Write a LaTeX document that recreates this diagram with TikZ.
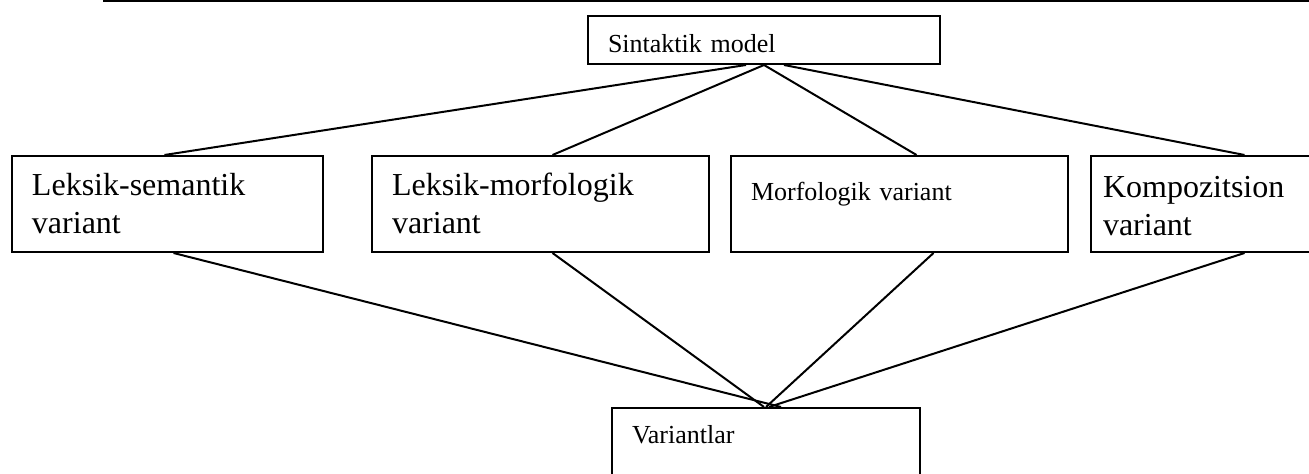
\documentclass[tikz,border=0pt]{standalone}
\usepackage{fontspec}
\setmainfont{Liberation Serif}
\usetikzlibrary{calc}

\begin{document}
\begin{tikzpicture}[x=0.5pt,y=-0.5pt,line width=1pt]
\tikzstyle{every node}+=[inner sep=0pt]
\tikzstyle{varbox}=[draw, anchor=north west, align=left, inner xsep=10pt, line width=1pt]
\tikzstyle{bigtext}=[font=\fontsize{16}{19}\selectfont]
\tikzstyle{smalltext}=[font=\fontsize{13}{16}\selectfont]
\useasboundingbox (0,0) rectangle (1309,474);
\clip (0,0) rectangle (1309,474);
\draw (103,1) -- (1309,1);
\node [varbox,smalltext,text width=156pt,text height=18.5pt,text depth=5.5pt] (sint) at (587,15) {Sintaktik model};
\node [varbox,bigtext,text width=135.5pt,text height=20pt,text depth=28pt] (lexsem) at (11,155) {Leksik-semantik\\variant};
\node [varbox,bigtext,text width=148.5pt,text height=20pt,text depth=28pt] (lexmorf) at (371,155) {Leksik-morfologik\\variant};
\node [varbox,smalltext,text width=148.5pt,text height=22.5pt,text depth=25.5pt] (morf) at (730,155) {Morfologik variant};
\node [varbox,bigtext,inner xsep=6pt,text width=156.5pt,text height=21pt,text depth=27pt] (komp) at (1090,155) {Kompozitsion\\variant};
\node [varbox,smalltext,text width=134pt,text height=18pt,text depth=40pt] (var) at (611,407) {Variantlar};
\draw ($(sint.south)+(-18,0)$) -- ($(lexsem.north)+(-3,0)$);
\draw (sint.south) -- ($(lexmorf.north)+(12,0)$);
\draw (sint.south) -- ($(morf.north)+(17,0)$);
\draw ($(sint.south)+(20,0)$) -- ($(komp.north)+(-15,0)$);

\draw ($(lexsem.south)+(6,0)$) -- ($(var.north)+(15,0)$);
\draw ($(lexmorf.south)+(12,0)$) -- ($(var.north)+(-2,0)$);
\draw ($(morf.south)+(34,0)$) -- (var.north);
\draw ($(komp.south)+(-15,0)$) -- ($(var.north)+(3,0)$);
\end{tikzpicture}
\end{document}
